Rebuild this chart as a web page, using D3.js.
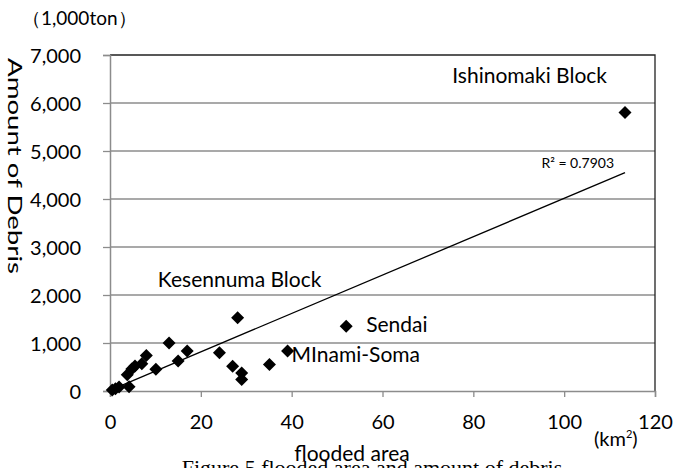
<!DOCTYPE html>
<html>
<head>
<meta charset="utf-8">
<script src="https://cdn.jsdelivr.net/npm/d3@7"></script>
<style>
  body { margin: 0; background: #fff; }
  svg text { font-family: Lato, "Open Sans", sans-serif; fill: #000; }
</style>
</head>
<body>
<div id="chart"></div>
<script>
var width = 673;
var height = 468;

// flooded area (km2) and amount of debris (1,000 ton)
var areas  = [0.5, 1.2, 2.0, 4.2, 3.8, 4.8, 5.5, 7.0, 8.0, 10.1, 13.0, 15.0, 17.0, 24.1, 27.0, 28.1, 29.0, 29.0, 35.1, 39.1, 52.0, 113.4];
var debris = [20, 45, 85, 90, 340, 460, 520, 570, 740, 455, 1000, 625, 835, 795, 515, 1525, 375, 240, 550, 835, 1350, 5800];

// linear trendline
var trendSlope = 40.0;
var trendIntercept = 15;
var trendLabel = "R\u00b2 = 0.7903";

var xTicks = [0, 20, 40, 60, 80, 100, 120];
var yTicks = [0, 1000, 2000, 3000, 4000, 5000, 6000, 7000];

var notes = [
  { text: "Ishinomaki Block", x: 113.4, y: 6560, anchor: "end", dx: -18 },
  { text: "Kesennuma Block", x: 28.1, y: 2330, anchor: "middle", dx: 2 },
  { text: "Sendai", x: 52.0, y: 1380, anchor: "start", dx: 20 },
  { text: "MInami-Soma", x: 39.1, y: 750, anchor: "start", dx: 4 }
];

var margin = { left: 110, right: 18, top: 55, bottom: 77 };

var svg = d3.select('#chart')
    .append('svg')
    .attr('width', width)
    .attr('height', height);

var x = d3.scaleLinear()
    .domain([0, 120])
    .range([margin.left, width - margin.right]);

var y = d3.scaleLinear()
    .domain([0, 7000])
    .range([height - margin.bottom, margin.top]);

// gridlines
svg.append('g')
    .selectAll('line')
    .data(yTicks.slice(1, -1))
    .enter()
    .append('line')
    .attr('x1', x(0))
    .attr('x2', x(120))
    .attr('y1', function (d) { return y(d); })
    .attr('y2', function (d) { return y(d); })
    .attr('stroke', '#8c8c8c')
    .attr('stroke-width', 1.3);

// top and right border of plot
svg.append('path')
    .attr('d', 'M' + x(0) + ',' + y(7000) + 'H' + x(120) + 'V' + y(0))
    .attr('fill', 'none')
    .attr('stroke', '#222')
    .attr('stroke-width', 1.3);

// axes
var yAxis = d3.axisLeft(y)
    .tickValues(yTicks)
    .tickSize(7)
    .tickPadding(22)
    .tickFormat(d3.format(','));

var xAxis = d3.axisBottom(x)
    .tickValues(xTicks)
    .tickSize(6)
    .tickPadding(18);

var gy = svg.append('g')
    .attr('transform', 'translate(' + x(0) + ',0)')
    .call(yAxis);

var gx = svg.append('g')
    .attr('transform', 'translate(0,' + y(0) + ')')
    .call(xAxis);

[gx, gy].forEach(function (g) {
    g.select('.domain').attr('stroke', '#8c8c8c').attr('stroke-width', 1.5);
    g.selectAll('.tick line').attr('stroke', '#8c8c8c').attr('stroke-width', 1.3);
    g.selectAll('.tick text')
        .style('font-size', '20px')
        .style('font-family', 'Lato, sans-serif')
        .attr('fill', '#000');
});
gy.selectAll('.tick text').attr('dy', '0.36em');

// trendline
var xMin = d3.min(areas);
var xMax = d3.max(areas);
svg.append('line')
    .attr('x1', x(xMin))
    .attr('y1', y(trendIntercept + trendSlope * xMin))
    .attr('x2', x(xMax))
    .attr('y2', y(trendIntercept + trendSlope * xMax))
    .attr('stroke', '#000')
    .attr('stroke-width', 1.3);

svg.append('text')
    .attr('x', x(xMax) - 11)
    .attr('y', y(trendIntercept + trendSlope * xMax) - 5)
    .attr('text-anchor', 'end')
    .style('font-size', '14px')
    .text(trendLabel);

// points
var diamond = 'M0,-6.5L6.5,0L0,6.5L-6.5,0Z';
svg.append('g')
    .selectAll('path')
    .data(areas)
    .enter()
    .append('path')
    .attr('d', diamond)
    .attr('transform', function (d, i) {
        return 'translate(' + x(d) + ',' + y(debris[i]) + ')';
    })
    .attr('fill', '#000');

// block labels
svg.append('g')
    .selectAll('text')
    .data(notes)
    .enter()
    .append('text')
    .attr('x', function (d) { return x(d.x) + d.dx; })
    .attr('y', function (d) { return y(d.y); })
    .attr('dy', '0.35em')
    .attr('text-anchor', function (d) { return d.anchor; })
    .style('font-size', '21px')
    .text(function (d) { return d.text; });

// unit and axis titles
svg.append('text')
    .attr('x', 22)
    .attr('y', 25)
    .style('font-size', '19px')
    .text('\uff081,000ton\uff09');

svg.append('text')
    .attr('transform', 'translate(8,' + 58 + ') rotate(90)')
    .attr('textLength', 216)
    .attr('lengthAdjust', 'spacingAndGlyphs')
    .style('font-size', '20px')
    .text('Amount of Debris');

// figure caption, cut by the bottom edge
svg.append('text')
    .attr('x', 372)
    .attr('y', 475)
    .attr('text-anchor', 'middle')
    .style('font-family', '"Liberation Serif", serif')
    .style('font-size', '22px')
    .text('Figure 5 flooded area and amount of debris');

svg.append('text')
    .attr('x', 352)
    .attr('y', 461)
    .attr('text-anchor', 'middle')
    .style('font-size', '21px')
    .text('flooded area');

var unit = svg.append('text')
    .attr('x', 594)
    .attr('y', 446)
    .style('font-size', '20px');
unit.append('tspan').text('(km');
unit.append('tspan').attr('dy', -8).style('font-size', '11px').text('2');
unit.append('tspan').attr('dy', 8).text(')');
</script>
</body>
</html>
